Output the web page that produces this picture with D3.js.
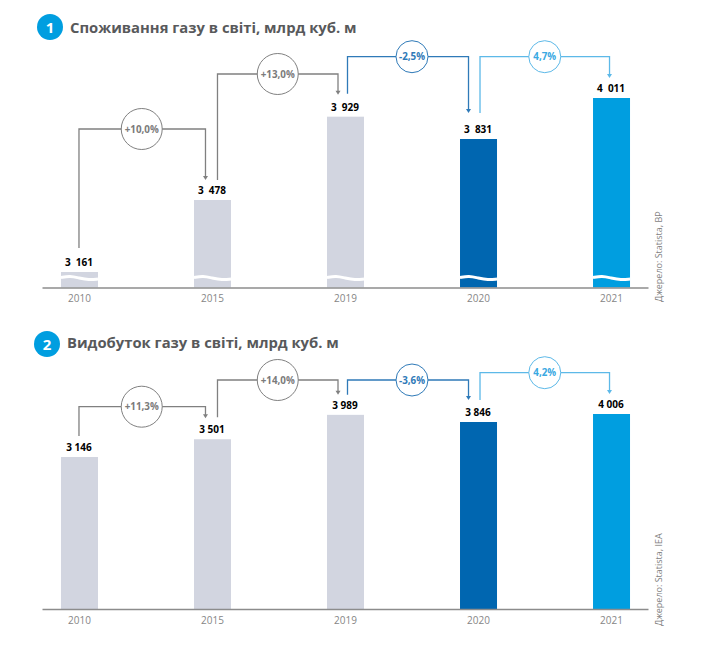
<!DOCTYPE html>
<html>
<head>
<meta charset="utf-8">
<script src="https://cdn.jsdelivr.net/npm/d3@7"></script>
<style>
  html, body { margin: 0; padding: 0; background: #fff; }
  svg { display: block; }
  text { font-family: "Open Sans", sans-serif; }
  .value { white-space: pre; }
</style>
</head>
<body>
<div id="chart"></div>
<script>
const years = ["2010", "2015", "2019", "2020", "2021"];

const consumption = [3161, 3478, 3929, 3831, 4011];
const consumptionLabels = ["3  161", "3  478", "3  929", "3  831", "4  011"];
const consumptionChanges = ["+10,0%", "+13,0%", "-2,5%", "4,7%"];

const production = [3146, 3501, 3989, 3846, 4006];
const productionLabels = ["3 146", "3 501", "3 989", "3 846", "4 006"];
const productionChanges = ["+11,3%", "+14,0%", "-3,6%", "4,2%"];

const barColors = ["#d2d5e0", "#d2d5e0", "#d2d5e0", "#0066b0", "#009ee0"];
const linkColors = ["#808080", "#808080", "#2f7ab8", "#5db9e8"];
const linkTextColors = ["#7b7b7b", "#7b7b7b", "#2f7ab8", "#3aa9e2"];

const svg = d3.select("#chart").append("svg").attr("width", 707).attr("height", 656);

const x = d3.scalePoint().domain(years).range([42, 648]).padding(0.278);
const barWidth = 37;

// horizontal ends of the four links, relative to the year centres
const linkFromDx = [0, 5.5, 2.5, 2];
const linkToDx = [-6.5, -7, -9.5, -1.5];
const circleDx = [-0.5, 0, 4, 0];
const circleR = [20.5, 20.5, 16, 16];

// the top chart has broken bars, they are not drawn to one scale
const yTop = d3.scaleLinear().domain([3161, 3478, 3831, 4011]).range([272, 200, 139, 98]);
const yBottom = d3.scaleLinear().domain([3146, 4006]).range([457, 414]);

drawChart({
  num: "1", numX: 50, numY: 27, title: "Споживання газу в світі, млрд куб. м", titleX: 70, titleY: 32.5,
  values: consumption, labels: consumptionLabels, changes: consumptionChanges,
  y: yTop, baseY: 287.5, broken: true, source: "Джерело: Statista, BP", sourceY: 302,
  rails: [129, 74, 56.7, 56.7], fromGap: [24, 20, 23, 26], toGap: [20, 22, 26, 20]
});

drawChart({
  num: "2", numX: 47, numY: 344, title: "Видобуток газу в світі, млрд куб. м", titleX: 67, titleY: 347.5,
  values: production, labels: productionLabels, changes: productionChanges,
  y: yBottom, baseY: 609, broken: false, source: "Джерело: Statista, IEA", sourceY: 626,
  rails: [406.7, 380, 380, 372.7], fromGap: [21, 22, 20, 22], toGap: [21, 20, 22, 20]
});

function drawChart(c) {
  const g = svg.append("g");

  g.append("circle").attr("cx", c.numX).attr("cy", c.numY).attr("r", 13).attr("fill", "#009ee0");
  g.append("text").attr("x", c.numX).attr("y", c.numY + 5.5).attr("text-anchor", "middle")
    .attr("font-size", 15).attr("font-weight", 700).attr("fill", "#fff").text(c.num);
  g.append("text").attr("x", c.titleX).attr("y", c.titleY)
    .attr("font-size", 14.8).attr("font-weight", 700).attr("fill", "#58595b").text(c.title);

  g.selectAll(".bar").data(c.values).join("rect")
    .attr("class", "bar")
    .attr("x", (d, i) => x(years[i]) - barWidth / 2 + 0.5)
    .attr("y", d => c.y(d))
    .attr("width", barWidth)
    .attr("height", d => c.baseY - c.y(d))
    .attr("fill", (d, i) => barColors[i]);

  if (c.broken) {
    const wave = d3.line().curve(d3.curveBasis);
    g.selectAll(".wave").data(years).join("path")
      .attr("class", "wave")
      .attr("fill", "none").attr("stroke", "#fff").attr("stroke-width", 3)
      .attr("d", d => {
        const l = x(d) - barWidth / 2 + 0.5;
        return wave([[l, c.baseY - 10], [l + 9, c.baseY - 11.5], [l + 18, c.baseY - 9.5], [l + 28, c.baseY - 7.5], [l + barWidth, c.baseY - 8.5]]);
      });
  }

  g.selectAll(".value").data(c.labels).join("text")
    .attr("class", "value")
    .attr("x", (d, i) => x(years[i]))
    .attr("y", (d, i) => c.y(c.values[i]) - 6)
    .attr("text-anchor", "middle")
    .attr("font-size", 10).attr("font-weight", 700).attr("fill", "#000")
    .text(d => d);

  const axis = g.append("g")
    .attr("transform", "translate(0," + c.baseY + ")")
    .call(d3.axisBottom(x).tickSize(0).tickPadding(7.5).tickSizeOuter(0));
  axis.select(".domain").attr("stroke", "#8c8c8c").attr("stroke-width", 1.3);
  axis.selectAll("text").attr("font-family", "Open Sans").attr("font-size", 10).attr("fill", "#868686");

  c.changes.forEach((label, i) => {
    const x0 = x(years[i]) + linkFromDx[i];
    const x1 = x(years[i + 1]) + linkToDx[i];
    const yStart = c.y(c.values[i]) - c.fromGap[i];
    const yEnd = c.y(c.values[i + 1]) - c.toGap[i];
    const rail = c.rails[i];
    const cx = (x0 + x1) / 2 + circleDx[i];

    const path = d3.path();
    path.moveTo(x0, yStart);
    path.lineTo(x0, rail);
    path.lineTo(x1, rail);
    path.lineTo(x1, yEnd - 3);
    g.append("path").attr("d", path.toString())
      .attr("fill", "none").attr("stroke", linkColors[i]).attr("stroke-width", 1.3);
    g.append("path")
      .attr("d", d3.line()([[x1 - 2.5, yEnd - 4], [x1 + 2.5, yEnd - 4], [x1, yEnd]]) + "Z")
      .attr("fill", linkColors[i]);

    g.append("circle").attr("cx", cx).attr("cy", rail).attr("r", circleR[i])
      .attr("fill", "#fff").attr("stroke", linkColors[i]).attr("stroke-width", 1);
    g.append("text").attr("x", cx).attr("y", rail + 3.5).attr("text-anchor", "middle")
      .attr("font-size", 9.8).attr("font-weight", 700).attr("fill", linkTextColors[i]).text(label);
  });

  g.append("text")
    .attr("transform", "translate(662," + c.sourceY + ") rotate(-90)")
    .attr("font-size", 9).attr("fill", "#7f7f7f").text(c.source);
}
</script>
</body>
</html>
